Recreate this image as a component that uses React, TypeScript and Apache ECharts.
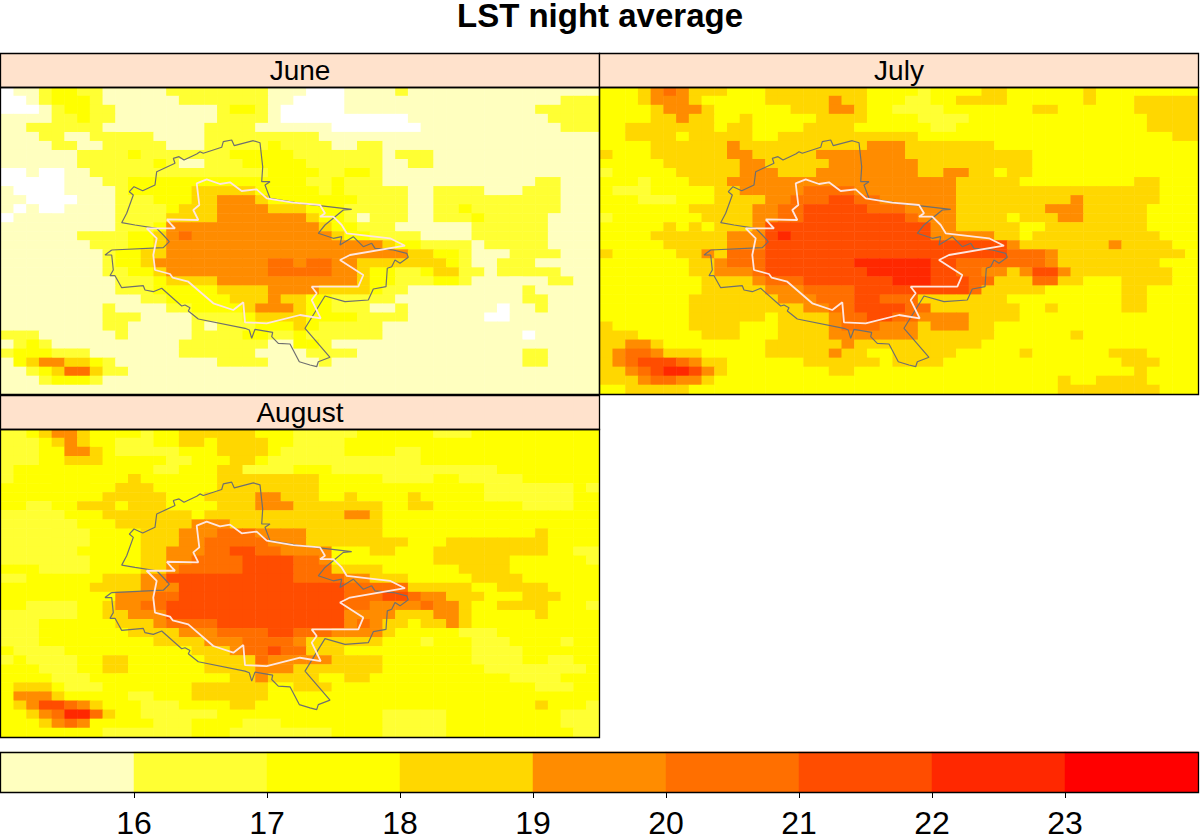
import React, { useEffect, useRef } from "react";
import * as echarts from "echarts";

const MONTHS = ["June", "July", "August"];
const COLUMN_COUNT = 47;
const ROW_COUNT = 34;
const KEY_TICKS = [16, 17, 18, 19, 20, 21, 22, 23];
const CLASS_COLORS = ["#FFFFFF", "#FFFFBF", "#FFFF33", "#FFFF00", "#FFD700", "#FF8C00", "#FF6F00", "#FF4D00", "#FF2800", "#FF0000"];
const CLASS_MINS = [14, 15, 16, 17, 18, 19, 20, 21, 22, 23];
// Temperature class by grid cell: every "c.l" means "from column c on, class l".
const JUNE_RUNS = [
  "0.0 1.1 3.2 4.3 6.2 8.1 13.2 21.1 24.0 27.1 31.2 32.1",
  "0.0 2.1 3.2 4.3 7.2 8.1 14.2 21.1 23.0 27.1 44.2",
  "0.0 3.1 4.2 5.3 7.2 9.1 17.2 18.3 20.2 21.1 22.0 27.1 42.2",
  "0.1 4.2 6.3 7.2 9.1 17.2 21.1 22.0 32.1 43.2",
  "0.1 2.2 8.1 16.2 20.1 26.0 33.1 44.2",
  "0.1 3.2 5.1 7.2 12.1 16.2 25.1",
  "0.1 4.2 6.1 8.2 13.1 16.2 21.3 22.2 26.1 28.2 30.1",
  "0.1 6.2 10.3 11.2 18.3 23.2 30.1 31.2 34.1",
  "0.1 6.2 12.3 13.2 14.1 16.2 19.3 23.3 24.2 30.1 32.2 34.1",
  "0.0 2.1 3.0 5.1 7.2 21.3 23.3 25.2 27.3 29.2 30.1",
  "0.0 5.1 8.2 10.3 24.2 26.3 27.2 30.1 42.2 44.1",
  "0.1 1.0 5.1 9.2 10.3 15.4 20.3 25.2 26.3 27.2 32.1 34.2 38.1 41.2 44.1",
  "0.1 2.0 6.1 9.2 12.3 15.4 17.5 20.4 21.3 28.2 32.1 34.2 44.1",
  "0.1 1.0 2.1 3.0 5.1 9.2 13.3 14.4 17.5 21.4 24.3 27.2 32.1 34.2 36.3 37.2 44.1",
  "0.0 1.1 9.2 13.4 17.5 23.5 24.4 25.3 27.2 28.1 29.2 32.1 34.2 37.3 38.2 43.1",
  "0.1 9.2 12.3 13.5 25.4 26.3 28.2 31.1 37.2 43.1",
  "0.1 6.2 10.3 12.4 13.5 14.6 15.5 26.4 27.3 29.2 33.1 37.2 43.1",
  "0.1 7.2 10.3 12.4 13.5 30.4 31.3 33.2 37.1 38.2 43.1",
  "0.1 8.2 9.3 11.4 13.5 32.4 34.3 36.2 37.1 40.2 44.1",
  "0.1 8.2 9.3 11.4 12.5 21.6 23.5 24.6 26.5 28.4 35.3 36.2 37.1 39.2 42.1",
  "0.1 8.2 10.3 12.4 13.5 21.6 26.5 28.4 29.3 31.2 33.3 34.4 36.2 38.1 39.2 44.1",
  "0.1 9.2 12.3 13.4 17.5 28.4 29.3 31.2 34.3 36.2 37.1 43.2 45.1",
  "0.1 9.2 12.3 17.4 21.5 25.4 29.3 30.2 32.1 41.2 42.1",
  "0.1 11.2 13.3 18.4 21.5 22.4 24.3 26.2 31.1 41.2 43.1",
  "0.1 8.2 9.1 13.2 15.3 19.4 20.5 23.4 24.3 26.2 29.1 31.2 32.1 39.0 40.1 42.2 43.1",
  "0.1 8.2 11.1 15.2 19.3 20.4 24.3 28.2 32.1 38.0 40.1",
  "0.1 8.2 10.1 15.2 16.1 17.2 20.3 23.4 24.3 25.2 30.1",
  "0.2 3.1 9.2 10.1 15.2 19.3 21.2 23.3 24.2 30.1 41.0 42.1",
  "0.1 1.2 2.3 3.2 4.1 14.2 21.1 23.3 25.2 26.1",
  "0.2 1.3 4.2 7.1 14.2 20.1 24.2 28.1 41.2 43.1",
  "0.1 1.3 2.4 3.5 5.4 7.3 8.2 9.1 17.2 21.1 25.2 26.1 41.2 43.1",
  "0.1 2.2 3.3 4.4 5.6 7.4 8.2 10.1",
  "0.1 3.2 4.3 7.2 8.1",
  "0.1",
];
const JULY_RUNS = [
  "0.3 3.4 4.5 5.6 6.5 7.4 10.3 13.4 21.3 25.2 26.3 30.4 32.3 38.4 39.3",
  "0.3 3.4 4.5 7.4 8.3 13.4 18.5 19.4 21.3 24.2 26.3 28.4 32.3 38.4 39.3 42.4",
  "0.3 4.4 5.5 8.4 9.3 15.4 18.5 20.4 21.3 23.2 27.3 34.4 36.3 42.4",
  "0.3 4.4 6.5 7.4 9.3 11.4 12.3 17.4 21.3 25.2 29.3 43.4",
  "0.3 2.4 9.3 10.4 12.3 16.4 20.3 26.2 28.3 43.4",
  "0.3 2.4 6.3 7.4 12.3 14.4 25.3 45.4",
  "0.3 4.4 10.5 11.4 21.5 24.4 31.3",
  "0.4 1.3 4.4 10.5 12.4 17.5 24.4 34.3",
  "0.3 5.4 11.5 13.4 18.5 25.4 34.3",
  "0.2 1.3 6.4 11.5 14.4 17.5 25.4 27.5 29.4 31.3 32.4 34.3",
  "0.3 3.2 4.3 7.4 10.5 28.4 33.3 42.4 44.3",
  "0.3 1.2 4.3 9.4 11.5 16.6 20.5 28.4 44.3",
  "0.3 3.2 6.3 9.4 13.5 15.6 18.7 20.6 22.5 28.4 37.5 38.4 44.3",
  "0.3 7.4 12.5 14.6 16.7 21.6 24.5 28.4 35.5 38.4 43.3",
  "0.2 1.3 8.4 12.5 14.6 16.7 24.6 25.5 28.4 32.3 33.4 36.5 38.4 43.3",
  "0.3 5.4 6.3 7.4 8.3 9.4 12.5 13.7 26.5 28.4 33.3 35.4 43.3",
  "0.3 4.4 10.5 13.7 14.8 15.7 26.5 31.4 33.3 34.4 44.3",
  "0.3 5.4 10.5 13.7 32.5 33.4 40.5 41.4 45.3",
  "0.4 1.3 6.4 8.5 9.4 10.6 13.7 32.6 35.5 36.4 46.3",
  "0.3 7.4 9.5 10.6 13.7 20.8 26.7 28.6 35.5 36.4 44.3",
  "0.3 7.4 9.5 12.6 13.7 21.8 26.7 28.6 30.5 32.4 33.5 34.7 36.5 37.4 45.3",
  "0.3 8.4 12.5 13.6 16.7 23.8 26.7 29.6 31.4 34.6 36.4 38.3 41.4 45.3",
  "0.3 8.4 13.5 16.6 20.7 29.6 30.4 35.3 41.4 43.3",
  "0.3 7.4 14.5 17.6 20.7 22.6 25.4 32.3 41.4 43.3",
  "0.3 7.4 16.5 18.6 20.7 23.7 24.6 26.4 33.3 35.4 36.3 41.4 43.3",
  "0.3 7.4 13.3 14.4 18.5 19.6 21.7 23.6 25.5 29.4 33.3",
  "0.4 1.3 7.4 11.3 14.4 18.5 19.6 22.5 25.4 26.5 29.4 31.3",
  "0.4 3.3 8.4 11.3 14.4 18.5 25.4 31.3 37.4 38.3",
  "0.4 2.5 4.4 5.3 13.4 19.5 20.4 30.3",
  "0.4 1.5 2.6 4.5 5.4 8.3 13.4 18.5 19.4 21.3 23.4 28.3 33.4 34.3 40.4 43.3",
  "0.4 1.5 2.6 3.7 6.6 7.5 8.4 10.3 16.4 22.3 23.4 27.3 41.4 44.3",
  "0.4 2.5 3.6 4.7 5.8 7.7 8.5 9.4 10.3 18.4 20.3 42.4 43.3",
  "0.4 3.5 4.6 6.5 8.4 9.3 36.4 37.3 39.4 43.3",
  "0.3 2.4 7.3 36.4 44.3",
];
const AUGUST_RUNS = [
  "0.2 2.3 3.4 4.5 6.4 7.3 11.2 12.3 14.4 20.3 23.2 28.3 34.2 37.3",
  "0.2 3.3 4.4 5.5 6.4 7.3 9.2 12.3 14.4 16.3 17.4 21.3 23.2 27.3",
  "0.2 3.3 5.5 7.4 8.3 9.2 14.3 17.4 21.3 22.2 27.3 31.2 33.3",
  "0.2 3.3 5.4 8.3 13.2 15.3 18.4 20.3 21.2 33.3",
  "0.2 1.3 12.2 14.3 17.4 19.2 23.3 26.2 39.3",
  "0.2 1.3 10.4 11.3 17.4 25.3 30.2 34.3 36.2 41.3",
  "0.3 9.4 12.3 17.4 25.3 38.2 45.3 46.2",
  "0.3 8.4 13.3 16.4 20.5 22.4 25.3 27.4 28.3 32.4 33.3 38.2 45.3",
  "0.3 2.2 4.3 6.4 9.3 10.4 13.3 17.4 20.5 23.4 30.3 32.4 34.3 41.2 45.3",
  "0.2 5.3 8.4 15.3 16.4 27.5 29.4 30.3",
  "0.2 6.3 9.4 15.5 18.4 30.3",
  "0.2 7.3 11.4 14.5 17.6 20.5 24.4 30.3 42.4 43.3",
  "0.2 7.3 11.4 14.5 16.6 21.5 24.4 32.3 35.4 43.3",
  "0.2 6.3 11.4 13.5 16.6 18.7 20.6 22.5 26.3 29.4 31.3 34.4 43.3 45.2",
  "0.2 7.3 11.4 13.5 15.6 19.7 23.6 25.5 26.3 34.4 40.3 46.2",
  "0.3 3.2 7.3 11.4 13.5 14.6 19.7 23.6 26.4 30.3 36.4 40.3",
  "0.2 2.3 8.4 11.5 13.7 23.6 27.5 29.4 32.3 37.4 41.3",
  "0.3 7.4 11.5 14.7 27.6 32.4 37.3 39.4 43.3",
  "0.3 9.5 12.6 14.7 27.6 30.7 32.6 33.5 35.4 38.3 41.4 44.3",
  "0.3 2.2 6.3 8.4 9.5 11.6 13.7 27.6 29.5 33.6 34.5 36.4 37.3 39.4 43.3 46.2",
  "0.2 6.3 8.4 10.5 13.7 27.5 31.4 34.5 36.4 37.3 42.4 43.3",
  "0.2 3.3 9.4 12.5 13.6 17.7 27.5 28.6 29.5 30.4 32.3 33.4 35.5 36.4 37.3",
  "0.2 3.3 10.4 14.5 17.6 21.7 23.6 26.5 30.4 31.3 36.2 39.3",
  "0.2 3.3 12.4 16.5 19.6 23.5 24.4 30.3 33.2 34.3 37.2 40.3 44.2 45.3",
  "0.3 1.2 5.3 15.4 18.5 19.6 21.7 22.6 24.4 27.3 37.2 41.3",
  "0.2 1.3 2.2 6.3 8.4 10.3 16.4 20.6 21.5 26.4 30.3 37.2 41.3 43.2 45.3",
  "0.3 3.2 6.3 8.4 10.3 16.4 20.5 23.4 30.3 38.2 46.3",
  "0.3 4.2 7.3 18.4 20.5 21.4 25.3 27.4 29.3 40.2 44.3",
  "0.3 1.4 4.3 5.2 8.3 15.4 21.3 23.4 26.3 42.2 45.3",
  "0.3 1.5 4.4 5.3 10.2 12.3 15.4 21.3",
  "0.3 1.4 2.5 3.7 5.6 6.5 7.4 8.3 11.2 14.3 18.4 20.3 42.4 43.3 46.2",
  "0.3 2.4 3.5 4.6 5.8 7.6 8.4 9.3 11.2 17.3 30.2 35.3 44.2",
  "0.3 3.4 4.5 5.6 6.5 7.3 12.2 15.3 19.2 22.3 30.2 35.3 44.2",
  "0.3 8.2 15.3 18.2 26.3 30.2 35.3 45.2",
];
const KEY_TEMPS = [15.5, 16.5, 17.5, 18.5, 19.5, 20.5, 21.5, 22.5, 23.5];
// City limits and urban core, in map units that match the panel's pixel scale.
const CITY_X = [111.7,163.3,169.3,163.3,156.7,135,121.7,126.7,133.3,129.3,134,142.7,155,156.7,175,173.3,179,184,196.7,200,203.3,221.7,223.3,231.7,234.3,253.3,260,262.7,261.7,270,265,270,300,351.7,343.3,325,318.3,333.3,341.7,340,353.3,363.3,371.7,375,393.3,406.7,408.3,400,395,391.7,387.3,386,373.3,368.3,345,325,305,330,318.3,316.7,310,299.3,290,278.3,271.7,272.7,255,251.7,249.3,245,198.3,188.3,190,185,181.7,161.7,153.3,145,143.3,121.7,115,110,113.3,111.7,105,111.7];
const CITY_Y = [250,247.7,241.7,235,228.3,225,222.7,213.3,195,191.7,186.7,190.7,185,171.7,163.3,158.3,156.7,160,154,151.7,153.3,147.3,141.7,140,145.7,140.7,142.7,166.7,181.7,181.7,185,198.3,203.3,209.3,210,225,233.3,238.3,236.7,245,236.7,246.7,243.3,248.3,250,253.3,257.3,263.3,260,266.7,268.3,286.7,289,300,301.7,296,328.3,357.3,361.7,366.7,365,361.7,344,343.3,336.7,332.3,329.3,338.3,330,328.3,319,311,307.7,305,306,288.3,291.7,290,285.7,287.7,275.7,275.7,270,255,255,250];
const CORE_X = [166.7,198.3,193.3,199.3,196.7,206.7,220,230,241.7,256.7,266.7,293.3,320,325,320,333.3,341.7,346.7,390,405,350,340,363.3,358.3,311.7,316.7,311.7,320.7,300,266.7,245,243.3,233.3,213.3,188.3,172.7,170,155,153.3,156.7,146.7,175,171.7,166.7];
const CORE_Y = [219.3,220,210,205,183.3,179.3,184,182.3,191,189.3,198.3,202.7,205,213.3,216.7,216.7,225,233.3,238.3,245.7,255,260,275,286.7,286.7,293.3,300,318.3,315,323.3,322.3,302.3,310,303.3,281.7,277.7,274,270,255,238.3,228.3,228.3,225,219.3];

const FONT = "Liberation Sans";
const PANEL_BOXES = [
  { left: 1, top: 87, width: 598, height: 307, stripTop: 53 },
  { left: 600, top: 87, width: 598, height: 307, stripTop: 53 },
  { left: 1, top: 429, width: 598, height: 308, stripTop: 395 },
];
const KEY_BOX = { left: 1, top: 752, width: 1197, height: 40 };

function decodeRuns(runs: string[]): number[][] {
  const cells: number[][] = [];
  runs.forEach((line, row) => {
    const pairs = line.split(" ").map((p) => p.split(".").map(Number));
    pairs.forEach(([start, level], i) => {
      const end = i + 1 < pairs.length ? pairs[i + 1][0] : COLUMN_COUNT;
      for (let col = start; col < end; col++) cells.push([col, row, CLASS_MINS[level] + 0.5]);
    });
  });
  return cells;
}
const zip = (xs: number[], ys: number[]) => xs.map((x, i) => [x, ys[i]]);

function buildOption() {
  const monthRuns = [JUNE_RUNS, JULY_RUNS, AUGUST_RUNS];
  const columns = Array.from({ length: COLUMN_COUNT }, (_, i) => String(i));
  const rows = Array.from({ length: ROW_COUNT }, (_, i) => String(i));
  const grid: any[] = [];
  const xAxis: any[] = [];
  const yAxis: any[] = [];
  const series: any[] = [];
  const heatIndex: number[] = [];
  const graphic: any[] = [];

  PANEL_BOXES.forEach((b, i) => {
    grid.push({ left: b.left, top: b.top, width: b.width, height: b.height });
    xAxis.push({ type: "category", gridIndex: i, data: columns, show: false });
    xAxis.push({ type: "value", gridIndex: i, min: 1, max: 599, show: false });
    yAxis.push({ type: "category", gridIndex: i, data: rows, inverse: true, show: false });
    yAxis.push({ type: "value", gridIndex: i, min: 87, max: 394, inverse: true, show: false });
    heatIndex.push(series.length);
    series.push({
      type: "heatmap", xAxisIndex: i * 2, yAxisIndex: i * 2, data: decodeRuns(monthRuns[i]),
      progressive: 0, silent: true, z: 1,
    });
    series.push({
      type: "line", xAxisIndex: i * 2 + 1, yAxisIndex: i * 2 + 1, data: zip(CITY_X, CITY_Y),
      showSymbol: false, silent: true, z: 3, lineStyle: { color: "#6f6f6f", width: 1.2 },
    });
    series.push({
      type: "line", xAxisIndex: i * 2 + 1, yAxisIndex: i * 2 + 1, data: zip(CORE_X, CORE_Y),
      showSymbol: false, silent: true, z: 4, lineStyle: { color: "#FFE6E0", width: 1.8 },
    });
    graphic.push({
      type: "rect", z: 20, shape: { x: b.left - 0.5, y: b.stripTop + 0.5, width: b.width + 1, height: b.top - b.stripTop },
      style: { fill: "#FFE2CC", stroke: "#000", lineWidth: 1.3 },
    });
    graphic.push({
      type: "text", z: 21, x: b.left + b.width / 2, y: (b.stripTop + b.top) / 2,
      style: { text: MONTHS[i], font: `28px "${FONT}"`, fill: "#000", align: "center", verticalAlign: "middle" },
    });
    graphic.push({
      type: "rect", z: 20, shape: { x: b.left - 0.5, y: b.top + 0.5, width: b.width + 1, height: b.height },
      style: { fill: "none", stroke: "#000", lineWidth: 1.3 },
    });
  });

  const keyGrid = PANEL_BOXES.length;
  grid.push({ left: KEY_BOX.left, top: KEY_BOX.top, width: KEY_BOX.width, height: KEY_BOX.height });
  xAxis.push({ type: "category", gridIndex: keyGrid, data: KEY_TEMPS.map(String), show: false });
  yAxis.push({ type: "category", gridIndex: keyGrid, data: ["key"], show: false });
  xAxis.push({
    type: "value", gridIndex: keyGrid, min: 15, max: 24, interval: 1, position: "bottom",
    axisLine: { show: false },
    axisTick: { show: true, length: 6, lineStyle: { color: "#000", width: 1 } },
    axisLabel: {
      margin: 15, fontSize: 32, color: "#000", fontFamily: FONT,
      showMinLabel: false, showMaxLabel: false,
      formatter: (v: number) => (KEY_TICKS.includes(v) ? String(v) : ""),
    },
    splitLine: { show: false },
  });
  heatIndex.push(series.length);
  series.push({
    type: "heatmap", xAxisIndex: keyGrid * 2, yAxisIndex: keyGrid * 2,
    data: KEY_TEMPS.map((t, i) => [i, 0, t]), silent: true, z: 1,
  });
  graphic.push({
    type: "rect", z: 20, shape: { x: KEY_BOX.left - 0.5, y: KEY_BOX.top + 0.5, width: KEY_BOX.width + 1, height: KEY_BOX.height },
    style: { fill: "none", stroke: "#000", lineWidth: 1.3 },
  });

  return {
    animation: false,
    backgroundColor: "#fff",
    textStyle: { fontFamily: FONT },
    title: {
      text: "LST night average", left: "center", top: 0, padding: 0,
      textStyle: { fontSize: 33, lineHeight: 30, fontWeight: "bold", color: "#000", fontFamily: FONT },
    },
    grid, xAxis, yAxis, series, graphic,
    visualMap: {
      type: "piecewise", show: false, dimension: 2, seriesIndex: heatIndex,
      pieces: CLASS_MINS.map((m, i) => ({ gte: m, lt: m + 1, color: CLASS_COLORS[i] })),
    },
  };
}

export default function App() {
  const ref = useRef<HTMLDivElement>(null);
  useEffect(() => {
    const chart = echarts.init(ref.current!, undefined, { renderer: "svg" });
    chart.setOption(buildOption() as any);
    return () => chart.dispose();
  }, []);
  return <div ref={ref} style={{ position: "absolute", left: 0, top: 0, width: 1200, height: 840 }} />;
}
